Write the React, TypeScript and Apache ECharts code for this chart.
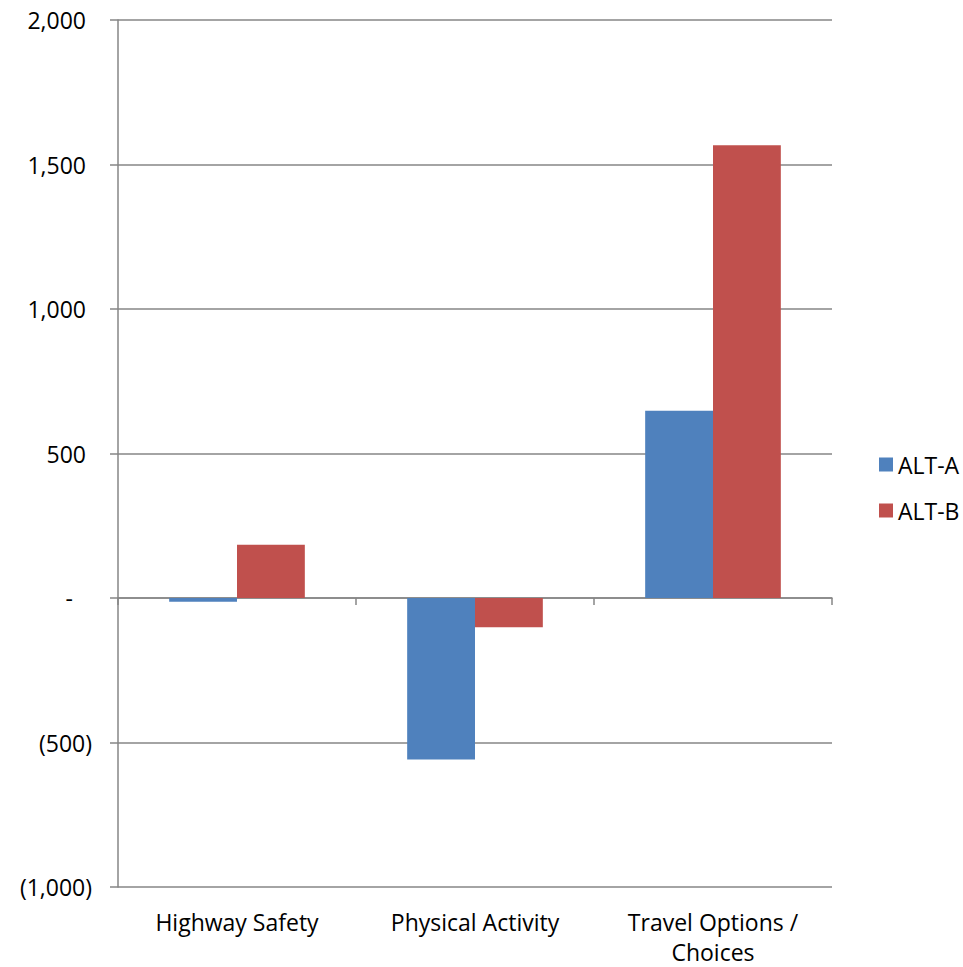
import React, { useEffect, useRef } from "react";
import * as echarts from "echarts";

const categories = ["Highway Safety", "Physical Activity", "Travel Options /\nChoices"];
const altA = [-13, -559, 648];
const altB = [184, -101, 1567];
const yTicks = { min: -1000, max: 2000, interval: 500 };

const GRID = "#868686";
const FONT = "'Open Sans', sans-serif";
const FS = 23;

function fmt(v: number): string {
  if (v === 0) return "{z|-}";
  const s = Math.abs(v).toLocaleString("en-US");
  return v < 0 ? `{n|(${s})}` : `{p|${s}}`;
}

export default function App() {
  const ref = useRef<HTMLDivElement>(null);
  useEffect(() => {
    if (!ref.current) return;
    const chart = echarts.init(ref.current, undefined, { renderer: "svg" });
    const labelRich = {
      p: { fontSize: FS, fontFamily: FONT, color: "#000", padding: [0, 6, 0, 0] },
      n: { fontSize: FS, fontFamily: FONT, color: "#000" },
      z: { fontSize: FS, fontFamily: FONT, color: "#000", padding: [0, 19, 0, 0] },
    };
    chart.setOption({
      animation: false,
      grid: {
        left: 118,
        right: 131,
        top: 20,
        bottom: 80,
        containLabel: false,
        outerBoundsMode: "none",
      },
      legend: {
        orient: "vertical",
        left: 874,
        top: 448,
        itemWidth: 14,
        itemHeight: 14,
        itemGap: 23,
        icon: "rect",
        textStyle: { fontSize: FS, fontFamily: FONT, color: "#000" },
        data: ["ALT-A", "ALT-B"],
      },
      xAxis: [
        {
          type: "category",
          data: categories,
          position: "bottom",
          axisLine: { onZero: false, show: false },
          axisTick: { show: false },
          axisLabel: {
            fontSize: FS,
            fontFamily: FONT,
            color: "#000",
            margin: 20,
            lineHeight: 30,
            interval: 0,
          },
        },
        {
          type: "category",
          data: categories,
          position: "bottom",
          axisLine: { onZero: true, show: true, lineStyle: { color: GRID, width: 1.5 } },
          axisTick: { show: true, inside: false, length: 7, lineStyle: { color: GRID, width: 1.5 } },
          axisLabel: { show: false },
        },
      ],
      yAxis: {
        type: "value",
        min: yTicks.min,
        max: yTicks.max,
        interval: yTicks.interval,
        axisLine: { show: true, lineStyle: { color: GRID, width: 1.5 } },
        axisTick: { show: true, length: 8, lineStyle: { color: GRID, width: 1.5 } },
        splitLine: { show: true, lineStyle: { color: GRID, width: 1.5 } },
        axisLabel: {
          margin: 26,
          formatter: (v: number) => fmt(v),
          rich: labelRich,
        },
      },
      series: [
        {
          name: "ALT-A",
          type: "bar",
          data: altA,
          barGap: "0%",
          barCategoryGap: "43%",
          itemStyle: { color: "#4F81BD" },
        },
        {
          name: "ALT-B",
          type: "bar",
          data: altB,
          barGap: "0%",
          barCategoryGap: "43%",
          itemStyle: { color: "#C0504D" },
        },
      ],
    });
    return () => chart.dispose();
  }, []);
  return <div ref={ref} style={{ width: 963, height: 967, position: "absolute", left: 0, top: 0 }} />;
}
